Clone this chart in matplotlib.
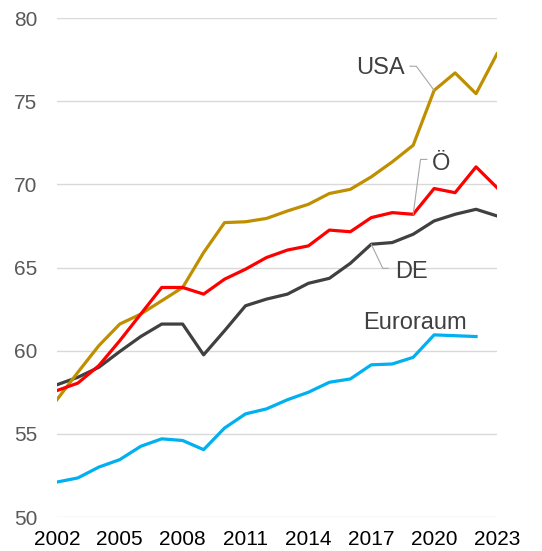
import matplotlib.pyplot as plt
import numpy as np

plt.rcParams['font.family'] = ['Liberation Sans', 'DejaVu Sans']

years = np.arange(2002, 2024)

usa = [57.05, 58.7, 60.3, 61.6, 62.2, 63.0, 63.8, 65.9, 67.7, 67.75, 67.95,
       68.4, 68.8, 69.45, 69.7, 70.45, 71.35, 72.35, 75.65, 76.7, 75.45, 77.85]
oe = [57.6, 58.05, 59.1, 60.6, 62.2, 63.8, 63.8, 63.4, 64.3, 64.9, 65.6,
      66.05, 66.3, 67.25, 67.15, 68.0, 68.3, 68.2, 69.75, 69.5, 71.05, 69.8]
de = [57.95, 58.4, 59.0, 59.95, 60.85, 61.6, 61.6, 59.75, 61.2, 62.7, 63.1,
      63.4, 64.05, 64.35, 65.25, 66.4, 66.5, 67.0, 67.8, 68.2, 68.5, 68.1]
euro = [52.1, 52.35, 53.0, 53.45, 54.25, 54.7, 54.6, 54.05, 55.35, 56.2, 56.5,
        57.05, 57.5, 58.1, 58.3, 59.15, 59.2, 59.6, 60.95, 60.9, 60.85]

xticks = [2002, 2005, 2008, 2011, 2014, 2017, 2020, 2023]
yticks = [50, 55, 60, 65, 70, 75, 80]

fig = plt.figure(figsize=(5.42, 5.51), dpi=100)
ax = fig.add_axes([0.105, 0.0617, 0.812, 0.9056])

lw = 2.3
ax.plot(years[:len(euro)], euro, color='#00B0F0', lw=lw)
ax.plot(years, de, color='#404040', lw=lw)
ax.plot(years, usa, color='#BF8F00', lw=lw)
ax.plot(years, oe, color='#FF0000', lw=lw)

ax.set_xlim(2002, 2023)
ax.set_ylim(50, 80)
ax.set_xticks(xticks)
ax.set_yticks(yticks)
ax.grid(axis='y', color='#D9D9D9', lw=1)
ax.set_axisbelow(True)
for s in ax.spines.values():
    s.set_visible(False)
ax.tick_params(axis='both', length=0)
ax.tick_params(axis='y', labelsize=15, labelcolor='#595959', pad=14)
ax.tick_params(axis='x', labelsize=15, labelcolor='black', pad=9)

lab = dict(fontsize=17, color='#404040', va='center')
ax.text(2017.45, 77.0, 'USA', ha='center', **lab)
ax.text(2020.33, 71.25, 'Ö', ha='center', **lab)
ax.text(2018.9, 64.75, 'DE', ha='center', **lab)
ax.text(2019.1, 61.65, 'Euroraum', ha='center', **lab)

lc = dict(color='#A6A6A6', lw=0.8)
ax.plot([2018.85, 2019.15, 2020], [77.1, 77.1, usa[18]], **lc)
ax.plot([2019.65, 2019.35, 2019], [71.5, 71.5, oe[17]], **lc)
ax.plot([2017.8, 2017.55, 2017], [64.95, 64.95, de[15]], **lc)

fig.savefig('out.png', dpi=100)
